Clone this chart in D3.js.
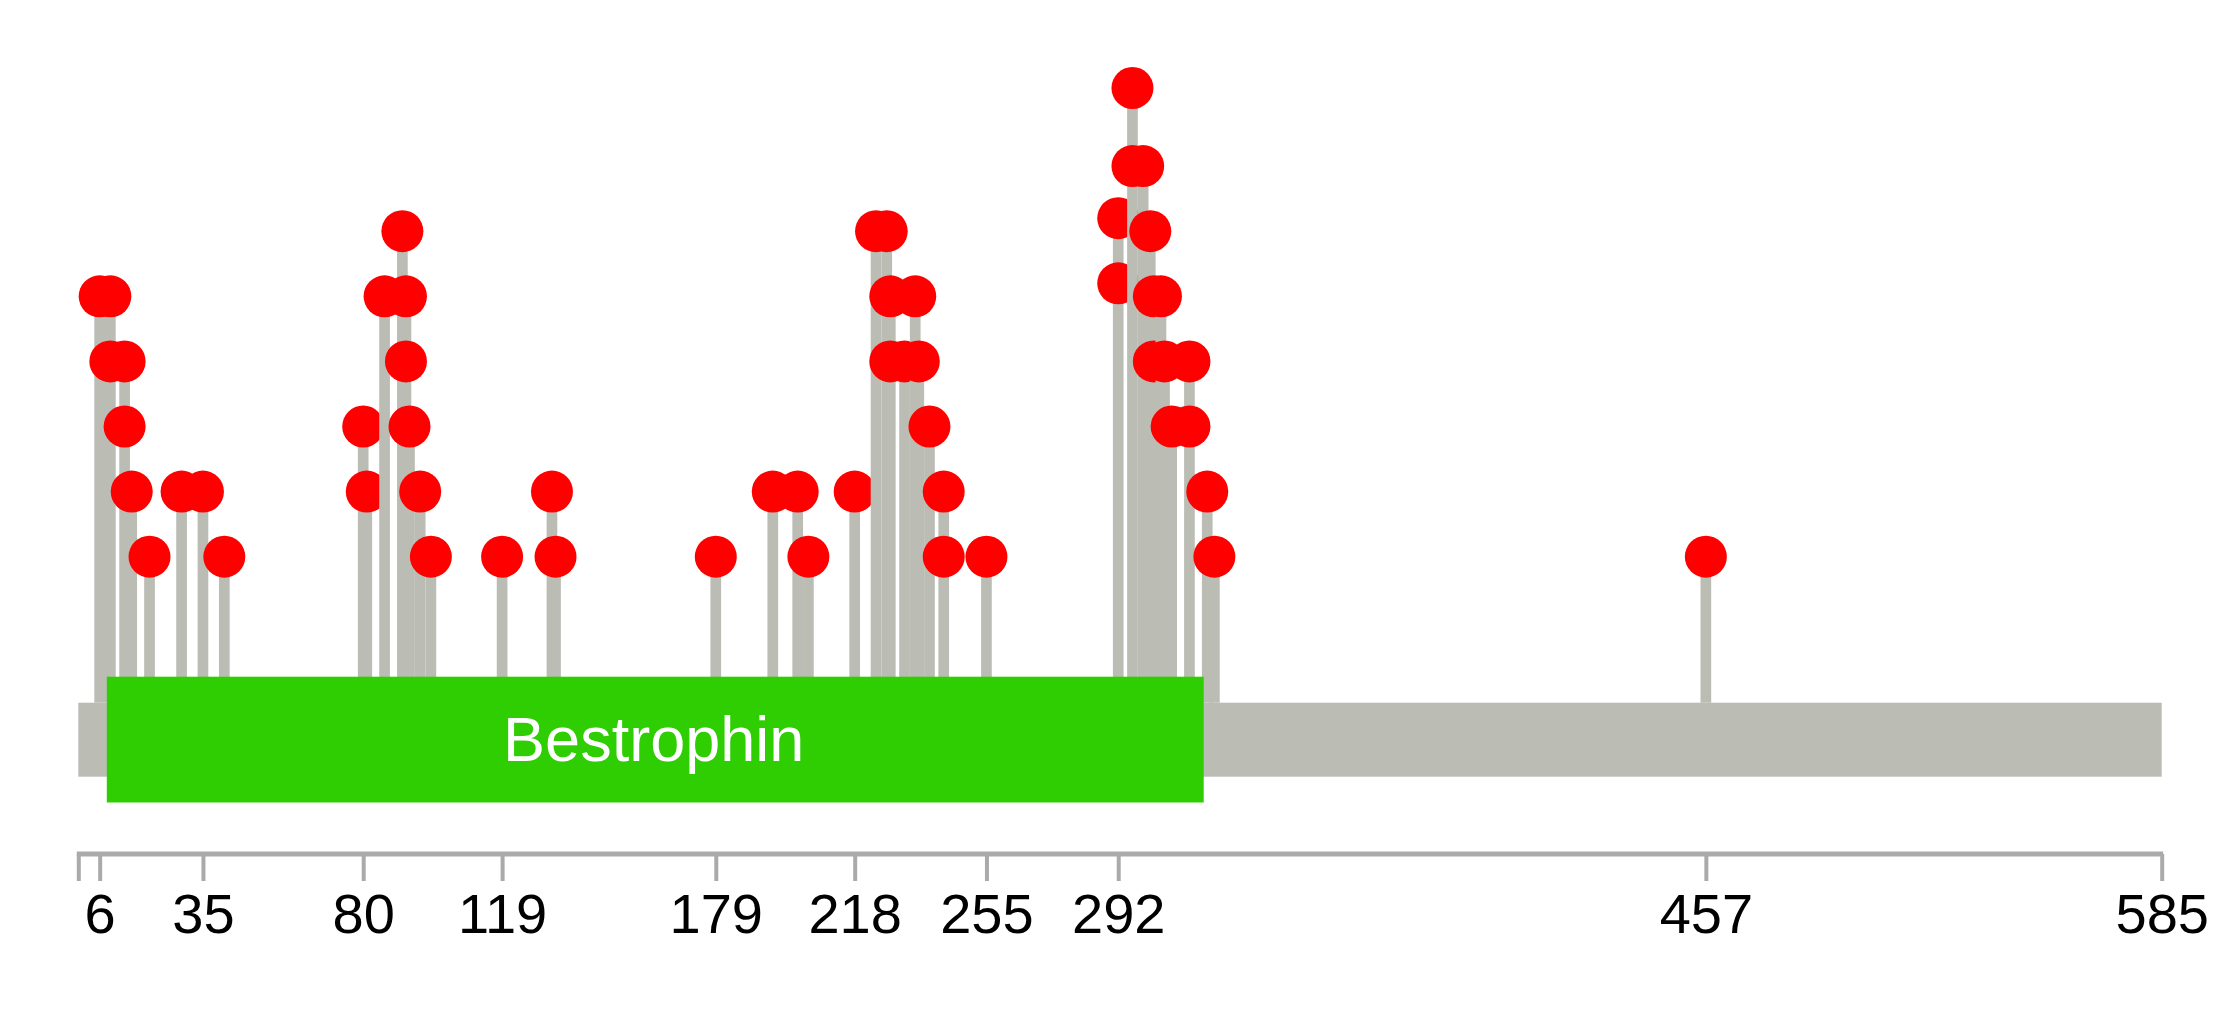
<!DOCTYPE html>
<html>
<head>
<meta charset="utf-8">
<script src="https://cdn.jsdelivr.net/npm/d3@7"></script>
<style>
  html, body { margin: 0; padding: 0; background: #ffffff; }
  svg { display: block; }
</style>
</head>
<body>
<svg id="chart" width="2239" height="1036"></svg>
<script>
// ---- data ----
const proteinLength = 585;
const domainNames = ["Bestrophin"];
const domainStarts = [8];
const domainEnds = [316];
// each entry is one mutation circle: residue position and its height (count)
const mutationPositions = [6, 9, 9, 13, 13, 15, 20, 29, 35, 41,
  80, 81, 86, 91, 92, 92, 93, 96, 99,
  119, 133, 134, 179, 195, 202, 205,
  218, 224, 227, 228, 228, 232, 235, 236, 239, 243, 243, 255,
  292, 292, 296, 296, 299, 301, 302, 302, 304, 305, 307, 312, 312, 317, 319,
  457];
const mutationCounts = [5, 5, 4, 4, 3, 2, 1, 2, 2, 1,
  3, 2, 5, 6, 5, 4, 3, 2, 1,
  1, 2, 1, 1, 2, 2, 1,
  2, 6, 6, 5, 4, 4, 5, 4, 3, 2, 1, 1,
  6.2, 5.2, 8.2, 7, 7, 6, 5, 4, 5, 4, 3, 4, 3, 2, 1,
  1];
const tickLabels = [6, 35, 80, 119, 179, 218, 255, 292, 457, 585];

// ---- layout ----
const svg = d3.select("#chart");
const x = d3.scaleLinear().domain([0, proteinLength]).range([78.3, 2161.7]);
const y = d3.scaleLinear().domain([0, 8]).range([621.8, 101]);

const GRAY = "#bbbdb5";
const GREEN = "#2ece02";
const RED = "#ff0000";
const AXIS = "#aaaaaa";
const backboneTop = 702.7, backboneBottom = 776.7;
const domainTop = 676.7, domainBottom = 802.5;
const stickW = 10.7, radius = 21;

// backbone
svg.append("rect")
  .attr("x", x(0)).attr("y", backboneTop)
  .attr("width", x(proteinLength) - x(0))
  .attr("height", backboneBottom - backboneTop)
  .attr("fill", GRAY);

// group mutations by position (ascending), draw stick then circles
const muts = mutationPositions.map((p, i) => ({ pos: p, count: mutationCounts[i] }));
const groups = d3.groups(muts, d => d.pos).sort((a, b) => a[0] - b[0]);

const lol = svg.append("g");
groups.forEach(([pos, items]) => {
  const maxC = d3.max(items, d => d.count);
  const g = lol.append("g");
  g.append("rect")
    .attr("x", x(pos) - stickW / 2)
    .attr("y", y(maxC))
    .attr("width", stickW)
    .attr("height", backboneTop - y(maxC))
    .attr("fill", GRAY);
  g.selectAll("circle").data(items).join("circle")
    .attr("cx", d => x(d.pos))
    .attr("cy", d => y(d.count))
    .attr("r", radius)
    .attr("fill", RED);
});

// domains
const domains = domainNames.map((n, i) => ({ name: n, start: domainStarts[i], end: domainEnds[i] }));
const dg = svg.append("g");
dg.selectAll("rect").data(domains).join("rect")
  .attr("x", d => x(d.start))
  .attr("y", domainTop)
  .attr("width", d => x(d.end) - x(d.start))
  .attr("height", domainBottom - domainTop)
  .attr("fill", GREEN);
dg.selectAll("text").data(domains).join("text")
  .attr("x", 653.7)
  .attr("y", 761)
  .attr("text-anchor", "middle")
  .attr("font-family", "'Liberation Sans', Arial, sans-serif")
  .attr("font-size", 63)
  .attr("fill", "#ffffff")
  .text(d => d.name);

// axis
const axis = d3.axisBottom(x)
  .tickValues([0].concat(tickLabels))
  .tickSize(27)
  .tickSizeOuter(0)
  .tickFormat(d => d === 0 ? "" : String(d));
const ag = svg.append("g").attr("transform", "translate(0,854)").call(axis);
ag.select(".domain").attr("stroke", AXIS).attr("stroke-width", 5).attr("d", `M${x(0) - 1.5},0H${x(proteinLength) + 1.5}`);
ag.selectAll(".tick line").attr("stroke", AXIS).attr("stroke-width", 4);
ag.selectAll(".tick text")
  .attr("y", 78.7).attr("dy", 0)
  .attr("fill", "#000000")
  .attr("font-family", "'Liberation Sans', Arial, sans-serif")
  .attr("font-size", 56);
</script>
</body>
</html>
